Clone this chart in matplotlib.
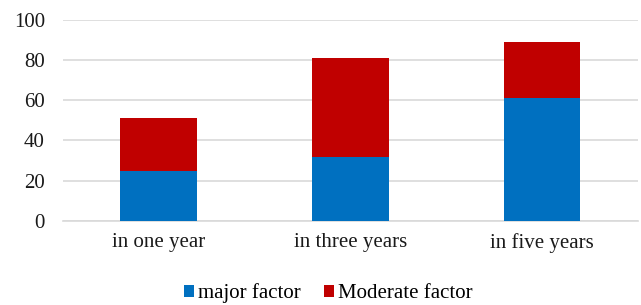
import matplotlib
matplotlib.use('Agg')
import matplotlib.pyplot as plt
import numpy as np

# Dados do grafico
categorias = ['in one year', 'in three years', 'in five years']
major = [25, 32, 61]
moderate = [26, 49, 28]

plt.rcParams['font.family'] = ['Liberation Serif', 'DejaVu Serif']
plt.rcParams['font.size'] = 15

fig = plt.figure(figsize=(6.41, 3.05), dpi=100)
ax = fig.add_axes([0.0983, 0.2764, 0.8967, 0.6576])

x = np.arange(len(categorias))
ax.bar(x, major, width=0.4, color='#0070C0', label='major factor', zorder=3)
ax.bar(x, moderate, width=0.4, bottom=major, color='#C00000',
       label='Moderate factor', zorder=3)

ax.set_xlim(-0.5, 2.5)
ax.set_ylim(0, 100)
ax.set_yticks(range(0, 101, 20))
ax.set_xticks(x)
ax.set_xticklabels(categorias)
ax.tick_params(length=0, colors='#1a1a1a')
ax.tick_params(axis='y', pad=13)
ax.tick_params(axis='x', pad=9)

ax.grid(axis='y', color='#D9D9D9', linewidth=1.2, zorder=0)
for s in ['top', 'right', 'left']:
    ax.spines[s].set_visible(False)
ax.spines['bottom'].set_color('#D9D9D9')
ax.spines['bottom'].set_linewidth(1.2)

fig.legend(loc='center', bbox_to_anchor=(0.5125, 0.038), ncol=2, frameon=False,
           handlelength=0.48, handleheight=0.48, handletextpad=0.2,
           columnspacing=1.1, fontsize=15)

fig.savefig('out.png', dpi=100)
